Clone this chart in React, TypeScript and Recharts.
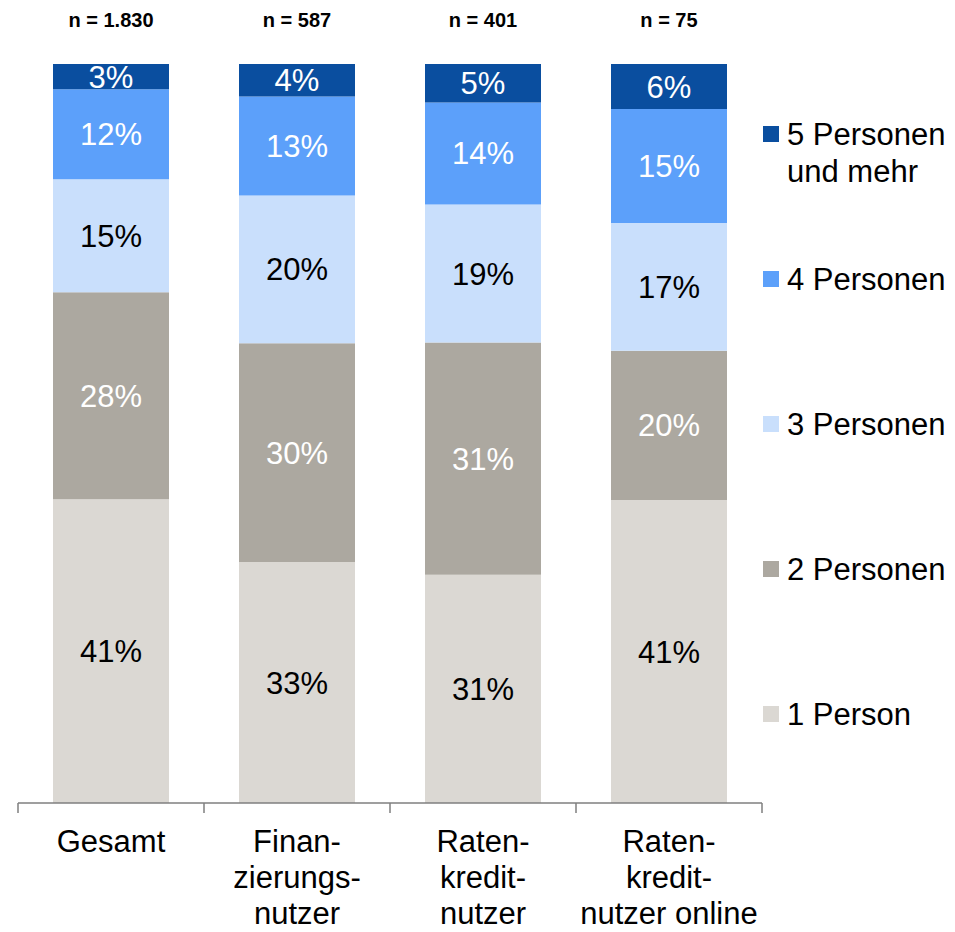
import React from "react";
import { Bar, BarChart, LabelList, XAxis, YAxis } from "recharts";

const categories = [
  "Gesamt",
  "Finan-\nzierungs-\nnutzer",
  "Raten-\nkredit-\nnutzer",
  "Raten-\nkredit-\nnutzer online",
];
const sampleSizes = ["n = 1.830", "n = 587", "n = 401", "n = 75"];

const onePerson = [41.1, 32.6, 30.9, 41.0];
const twoPersons = [28.0, 29.6, 31.4, 20.2];
const threePersons = [15.3, 20.0, 18.7, 17.3];
const fourPersons = [12.2, 13.4, 13.8, 15.4];
const fivePlus = [3.4, 4.4, 5.2, 6.1];

const FONT = "'Liberation Sans', Arial, sans-serif";
const AXIS_GREY = "#7f7f7f";

const series = [
  { key: "p1", name: "1 Person", color: "#dbd8d3", text: "#000000", values: onePerson },
  { key: "p2", name: "2 Personen", color: "#aca8a0", text: "#ffffff", values: twoPersons },
  { key: "p3", name: "3 Personen", color: "#c9dffc", text: "#000000", values: threePersons },
  { key: "p4", name: "4 Personen", color: "#5ca0fa", text: "#ffffff", values: fourPersons },
  { key: "p5", name: "5 Personen und mehr", color: "#0a4e9f", text: "#ffffff", values: fivePlus },
];

const data = categories.map((category, i) => {
  const row: Record<string, string | number> = { category, n: sampleSizes[i] };
  series.forEach((s) => {
    row[s.key] = s.values[i];
  });
  return row;
});

// category label plus the divider ticks at the band edges
const CategoryTick = (props: any) => {
  const { x, y, payload, index, visibleTicksCount, width } = props;
  const half = payload.offset ?? width / visibleTicksCount / 2;
  const lines = String(payload.value).split("\n");
  const isLast = index === visibleTicksCount - 1;
  return (
    <g>
      <line x1={x - half} x2={x - half} y1={y} y2={y + 10} stroke={AXIS_GREY} strokeWidth={1.5} />
      {isLast && (
        <line x1={x + half} x2={x + half} y1={y} y2={y + 10} stroke={AXIS_GREY} strokeWidth={1.5} />
      )}
      <text x={x} y={y} textAnchor="middle" fontSize={31} fontFamily={FONT} fill="#000">
        {lines.map((line, i) => (
          <tspan key={i} x={x} dy={i === 0 ? 49 : 36}>
            {line}
          </tspan>
        ))}
      </text>
    </g>
  );
};

const SampleLabel = (props: any) => {
  const { x, y, width, index } = props;
  return (
    <text
      x={x + width / 2}
      y={y - 37}
      textAnchor="middle"
      fontSize={20}
      fontWeight="bold"
      fontFamily={FONT}
      fill="#000"
    >
      {sampleSizes[index]}
    </text>
  );
};

export default function App() {
  return (
    <div style={{ position: "absolute", left: 0, top: 0, width: 955, height: 932 }}>
      <BarChart
        width={955}
        height={932}
        data={data}
        margin={{ top: 64, right: 193, bottom: 0, left: 18 }}
        barSize={116}
      >
        <XAxis
          dataKey="category"
          axisLine={{ stroke: AXIS_GREY, strokeWidth: 1.5 }}
          tickLine={false}
          tickSize={0}
          tickMargin={0}
          height={129}
          interval={0}
          tick={<CategoryTick />}
        />
        <YAxis hide domain={[0, 100]} />
        {series.map((s, i) => (
          <Bar
            key={s.key}
            dataKey={s.key}
            name={s.name}
            stackId="a"
            fill={s.color}
            isAnimationActive={false}
          >
            <LabelList
              dataKey={s.key}
              position="center"
              fill={s.text}
              fontSize={31}
              fontFamily={FONT}
              formatter={(v: any) => `${Math.round(Number(v))}%`}
            />
            {i === series.length - 1 && <LabelList dataKey="n" content={<SampleLabel />} />}
          </Bar>
        ))}
      </BarChart>
      <div style={{ position: "absolute", left: 763, top: 116, fontFamily: FONT }}>
        {[...series].reverse().map((s) => (
          <div key={s.key} style={{ height: 145, display: "flex", alignItems: "flex-start" }}>
            <div
              style={{
                width: 16,
                height: 16,
                background: s.color,
                marginTop: 10,
                flexShrink: 0,
              }}
            />
            <div style={{ marginLeft: 8, width: 170, fontSize: 31, lineHeight: "37px", color: "#000" }}>
              {s.name}
            </div>
          </div>
        ))}
      </div>
    </div>
  );
}
